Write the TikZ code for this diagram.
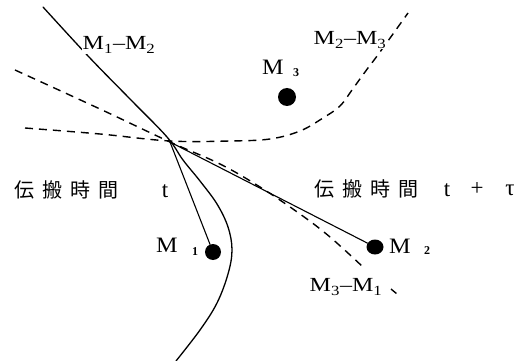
\documentclass[tikz,border=0pt]{standalone}
\usepackage{fontspec}
\setmainfont{Liberation Serif}
\newfontfamily\jp{Noto Sans CJK JP}
\usetikzlibrary{shapes.geometric}
\begin{document}
\begin{tikzpicture}[x=1pt,y=-1pt,
  solidcurve/.style={line width=1.3pt, line cap=round, line join=round},
  dashcurve/.style={line width=1.4pt, dash pattern=on 8pt off 6pt},
  dot/.style={fill=black, ellipse, inner sep=0pt, minimum width=16pt, minimum height=16pt},
  mlbl/.style={font=\fontsize{22}{22}\selectfont, inner sep=0pt},
  sublbl/.style={font=\bfseries\fontsize{12}{12}\selectfont, inner sep=0pt},
  pairlbl/.style={font=\fontsize{20}{20}\selectfont, inner sep=1pt, fill=white},
  jplbl/.style={font=\jp\fontsize{20}{20}\selectfont, inner sep=0pt},
  tlbl/.style={font=\fontsize{23}{23}\selectfont, inner sep=0pt}]
\useasboundingbox (0,0) rectangle (523,361);
\coordinate (P) at (170,142);
\node[dot] (m1) at (213,252) {};
\node[dot, minimum width=17pt, minimum height=15pt] (m2) at (375,247) {};
\node[dot, minimum width=18pt, minimum height=18pt] (m3) at (287,97) {};
% M1-M2 hyperbola (solid)
\draw[solidcurve] plot[smooth, tension=0.6] coordinates {(43,7) (89,57) (130,99) (167,137) (183,160) (200,181) (217,204) (228,227) (232,250) (228,274) (217,303) (200,330) (176,361)};
% M2-M3 hyperbola (dashed)
\draw[dashcurve] plot[smooth, tension=0.6] coordinates {(25,128) (100,134) (170,141) (230,141) (270,139) (300,131) (323,118) (340,106) (352,90) (365,72) (380,52) (408,13)};
% M3-M1 hyperbola (dashed)
\draw[dashcurve] plot[smooth, tension=0.6] coordinates {(15,70) (100,109) (170,142) (220,164) (260,187) (300,214) (330,237) (363,267)};
\draw[dashcurve, dash pattern=on 7pt off 6pt] (391,289) -- (397,294);
% lines to sensors
\draw[solidcurve, line width=1.1pt] (P) -- (m1);
\draw[solidcurve, line width=1.1pt] (P) -- (m2);
% labels
\node[pairlbl] (l12) at (119,45) {\scalebox{1.2}[1]{M\textsubscript{1}--M\textsubscript{2}}};
\node[pairlbl] (l23) at (350,40) {\scalebox{1.2}[1]{M\textsubscript{2}--M\textsubscript{3}}};
\node[pairlbl, fill=none] (l31) at (346,287) {\scalebox{1.2}[1]{M\textsubscript{3}--M\textsubscript{1}}};
\node[mlbl] (n1) at (167,245) {\scalebox{1.1}[1]{M}};
\node[sublbl] (s1) at (195,252) {1};
\node[mlbl] (n2) at (400,246) {\scalebox{1.1}[1]{M}};
\node[sublbl] (s2) at (427,251) {2};
\node[mlbl] (n3) at (273,67) {\scalebox{1.1}[1]{M}};
\node[sublbl] (s3) at (296,73) {3};
\node[jplbl] (jl) at (67,190) {伝\hspace{8pt}搬\hspace{8pt}時\hspace{8pt}間};
\node[tlbl] (tl) at (165,191) {t};
\node[jplbl] (jr) at (366,189) {伝\hspace{8pt}搬\hspace{8pt}時\hspace{8pt}間};
\node[tlbl] (tr) at (447,190) {t};
\node[tlbl] (pl) at (477,189) {+};
\node[tlbl] (tau) at (510,190) {τ};
\end{tikzpicture}
\end{document}
